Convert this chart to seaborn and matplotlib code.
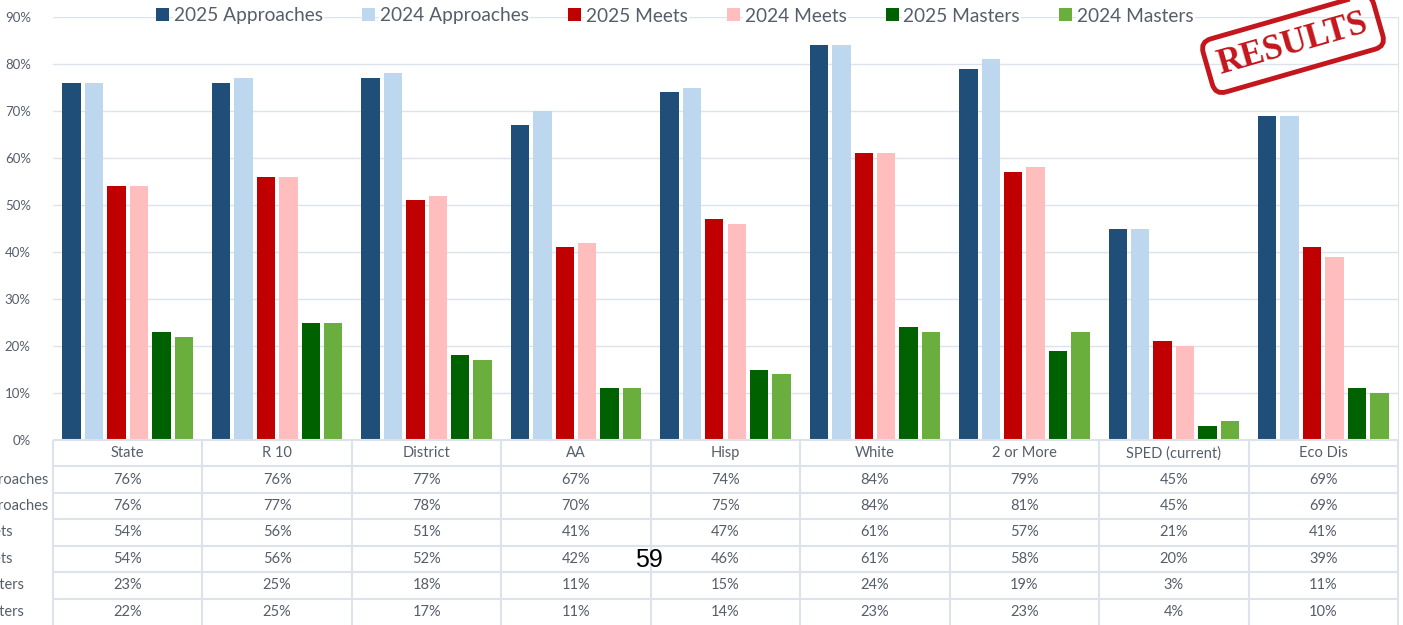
import matplotlib
matplotlib.use("Agg")
import matplotlib.pyplot as plt
import seaborn as sns
import pandas as pd

groups = ["State", "R 10", "District", "AA", "Hisp", "White", "2 or More", "SPED (current)", "Eco Dis"]
series = ["2025 Approaches", "2024 Approaches", "2025 Meets", "2024 Meets", "2025 Masters", "2024 Masters"]

approaches_2025 = [76, 76, 77, 67, 74, 84, 79, 45, 69]
approaches_2024 = [76, 77, 78, 70, 75, 84, 81, 45, 69]
meets_2025 = [54, 56, 51, 41, 47, 61, 57, 21, 41]
meets_2024 = [54, 56, 52, 42, 46, 61, 58, 20, 39]
masters_2025 = [23, 25, 18, 11, 15, 24, 19, 3, 11]
masters_2024 = [22, 25, 17, 11, 14, 23, 23, 4, 10]

colors = ["#1F4E79", "#BDD7EE", "#C00000", "#FFBDBD", "#006100", "#6AAE3E"]
text_gray = "#565E6A"
line_gray = "#DCE3EC"

values = [approaches_2025, approaches_2024, meets_2025, meets_2024, masters_2025, masters_2024]
df = pd.DataFrame(
    [{"group": g, "series": s, "value": v}
     for s, vals in zip(series, values) for g, v in zip(groups, vals)]
)

sns.set_style("white")
plt.rcParams["font.family"] = ["Lato", "DejaVu Sans"]

W, H = 1403, 625
fig = plt.figure(figsize=(W / 100, H / 100), dpi=100)

# bar chart
ax = fig.add_axes([53 / W, 1 - 440 / H, 1345 / W, 423 / H])
sns.barplot(data=df, x="group", y="value", hue="series", hue_order=series,
            palette=colors, width=0.9, gap=0.18, saturation=1, linewidth=0, ax=ax)
ax.set_xlim(-0.5, 8.5)
ax.set_ylim(0, 90)
ax.set_yticks(range(0, 91, 10))
ax.set_yticklabels([f"{t}%" for t in range(0, 91, 10)], color=text_gray, fontsize=9.5)
ax.tick_params(axis="y", length=0, pad=16)
ax.set_xticks([])
ax.set_xlabel("")
ax.set_ylabel("")
ax.grid(axis="y", color=line_gray, lw=1)
ax.set_axisbelow(True)
for sp in ["top", "left", "bottom"]:
    ax.spines[sp].set_visible(False)
ax.spines["right"].set_color(line_gray)

handles, labels = ax.get_legend_handles_labels()
ax.get_legend().remove()
leg = fig.legend(handles, labels, loc="center", bbox_to_anchor=(675 / W, 1 - 16 / H), ncol=6,
                 frameon=False, fontsize=13.75, handlelength=0.68, handleheight=0.68,
                 handletextpad=0.25, columnspacing=2.05, labelcolor=text_gray)
for t in leg.get_texts():
    t.set_bbox(dict(fc="white", ec="none", pad=1))

# data table under the bars
tax = fig.add_axes([53 / W, 0, 1345 / W, 185 / H])
tax.set_xlim(-0.5, 8.5)
tax.set_ylim(0, 7)
tax.axis("off")
tax.hlines(range(1, 8), -0.5, 8.5, color=line_gray, lw=1.5, clip_on=False)
tax.vlines([i - 0.5 for i in range(10)], 0, 7, color=line_gray, lw=1.5, clip_on=False)
for i, g in enumerate(groups):
    tax.text(i, 6.5, g, ha="center", va="center", fontsize=10.5, color=text_gray)
    for r, vals in enumerate(values):
        tax.text(i, 5.5 - r, f"{vals[i]}%", ha="center", va="center", fontsize=10.5, color=text_gray)

# row labels: left aligned, the longest one ends just before the table
row_h = 185 / 7
row_texts = []
for r, s in enumerate(series):
    row_texts.append(fig.text(0, 1 - (440 + row_h * (r + 1.5)) / H, s, ha="left", va="center",
                              fontsize=10.5, color=text_gray))
fig.canvas.draw()
longest = max(t.get_window_extent().width for t in row_texts)
for t in row_texts:
    t.set_x((48 - longest) / W)

# page number
fig.text(649 / W, 1 - 560 / H, "59", ha="center", va="center", fontsize=18,
         family="Liberation Sans", color="black")

# stamp
fig.text(1293 / W, 1 - 44 / H, "RESULTS", rotation=16, ha="center", va="center",
         fontsize=25, fontweight="bold", family="Liberation Serif", color="#C4161C",
         bbox=dict(boxstyle="round,pad=0.32", fc="none", ec="#C4161C", lw=3.5))

fig.savefig("out.png", dpi=100)
